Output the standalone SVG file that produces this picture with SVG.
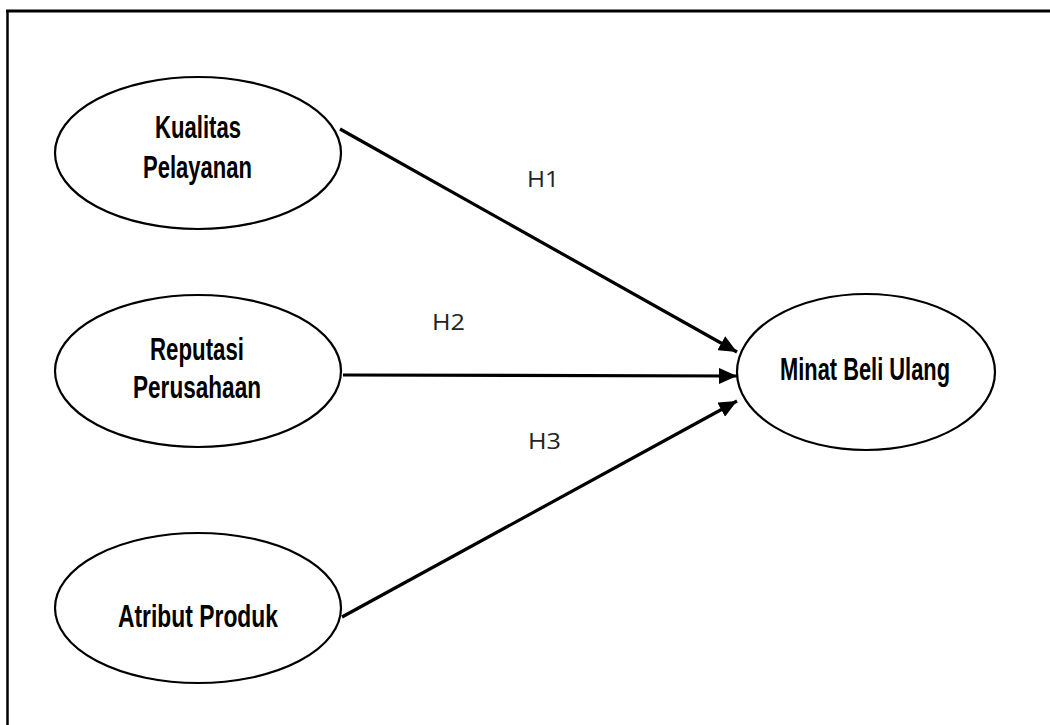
<svg xmlns="http://www.w3.org/2000/svg" width="1050" height="725" viewBox="0 0 1050 725">
<style>
.node ellipse{fill:#fff;stroke:#000;stroke-width:2.2}
.node text{font-family:"Liberation Sans","DejaVu Sans",sans-serif;font-weight:bold;font-size:32px;fill:#000}
.conn line{stroke:#000;stroke-width:3.2}
.lbl{font-family:"Open Sans","DejaVu Sans",sans-serif;font-size:21px;fill:#222}
</style>
<defs>
<marker id="ah" markerUnits="userSpaceOnUse" markerWidth="20" markerHeight="16" refX="18" refY="8" orient="auto">
<path d="M0,0 L18,8 L0,16 Z" fill="#000"/>
</marker>
</defs>
<rect width="1050" height="725" fill="#fff"/>
<g id="frame">
<line x1="6" y1="11" x2="1050" y2="11" stroke="#000" stroke-width="3"/>
<line x1="7.5" y1="10" x2="7.5" y2="725" stroke="#000" stroke-width="2.5"/>
</g>
<g id="connectors" class="conn">
<line x1="340" y1="129" x2="737" y2="352" marker-end="url(#ah)"/>
<line x1="343" y1="375" x2="737" y2="376" marker-end="url(#ah)"/>
<line x1="342" y1="617" x2="737" y2="401" marker-end="url(#ah)"/>
</g>
<g id="labels">
<text class="lbl" x="527" y="187" textLength="32" lengthAdjust="spacingAndGlyphs">H1</text>
<text class="lbl" x="432" y="330" textLength="33" lengthAdjust="spacingAndGlyphs">H2</text>
<text class="lbl" x="528" y="449" textLength="33" lengthAdjust="spacingAndGlyphs">H3</text>
</g>
<g id="kualitas" class="node">
<ellipse cx="198" cy="153" rx="143" ry="76"/>
<text x="155" y="138" textLength="86" lengthAdjust="spacingAndGlyphs">Kualitas</text>
<text x="143" y="178" textLength="109" lengthAdjust="spacingAndGlyphs">Pelayanan</text>
</g>
<g id="reputasi" class="node">
<ellipse cx="198" cy="371" rx="143" ry="76"/>
<text x="150" y="360" textLength="94" lengthAdjust="spacingAndGlyphs">Reputasi</text>
<text x="133" y="398" textLength="128" lengthAdjust="spacingAndGlyphs">Perusahaan</text>
</g>
<g id="atribut" class="node">
<ellipse cx="198" cy="608" rx="143" ry="75"/>
<text x="118" y="627" textLength="160" lengthAdjust="spacingAndGlyphs">Atribut Produk</text>
</g>
<g id="minat" class="node">
<ellipse cx="866" cy="372" rx="129" ry="78"/>
<text x="780" y="380" textLength="170" lengthAdjust="spacingAndGlyphs">Minat Beli Ulang</text>
</g>
</svg>
